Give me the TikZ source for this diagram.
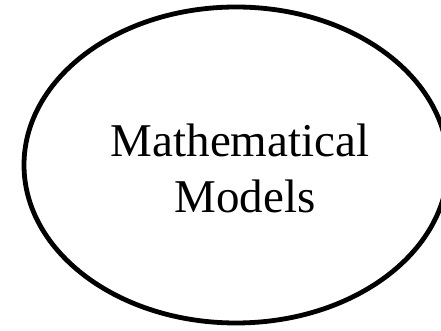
\documentclass[tikz,border=0pt]{standalone}
\usepackage{fontspec}
\setmainfont{Liberation Serif}
\begin{document}
\begin{tikzpicture}[x=1pt,y=1pt,
  lbl/.style={font=\fontsize{47}{56}\selectfont, inner sep=0pt, anchor=base}]
\useasboundingbox (0,0) rectangle (441,331);
\clip (0,0) rectangle (441,331);
\fill[white] (0,0) rectangle (441,331);
\draw[line width=4.8pt] (236,166) ellipse [x radius=212, y radius=158];
\node[lbl] (t1) at (240,174) {Mathematical};
\node[lbl] (t2) at (245,118) {Models};
\end{tikzpicture}
\end{document}
